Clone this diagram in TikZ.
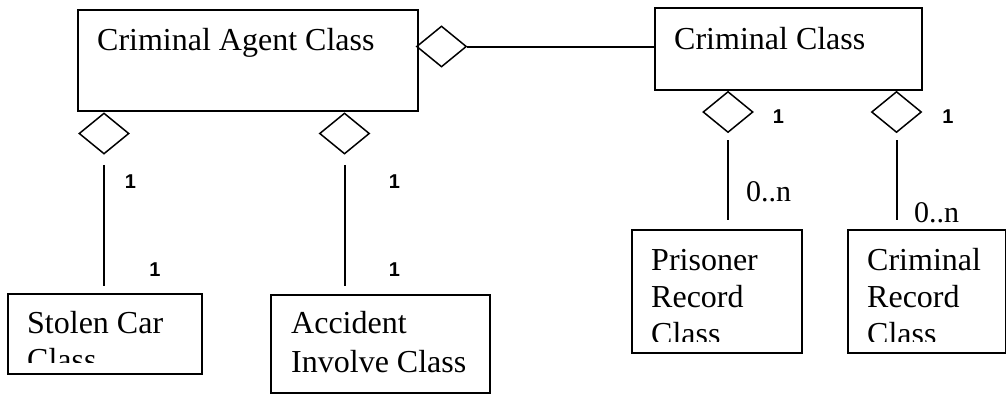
\documentclass[tikz,border=0pt]{standalone}
\usepackage{fontspec}
\setmainfont{Liberation Serif}
\newfontfamily\labelfont{Liberation Sans}
\usetikzlibrary{shapes.geometric}
\begin{document}
\begin{tikzpicture}[x=1pt,y=-1pt,
  classbox/.style={draw,line width=2pt,inner sep=0,anchor=north west},
  agg/.style={draw,diamond,line width=1.5pt,inner sep=0,minimum width=50pt,minimum height=41pt},
  link/.style={line width=2pt},
  classname/.style={inner sep=0,anchor=base west,font=\fontsize{32}{37}\selectfont},
  mult/.style={inner sep=0,font=\labelfont\bfseries\fontsize{20}{20}\selectfont},
  many/.style={inner sep=0,anchor=base west,font=\fontsize{30}{32}\selectfont}]
\useasboundingbox (0,0) rectangle (1006,394);

% class boxes
\node[classbox,minimum width=340pt,minimum height=101pt] (ca) at (77,9) {};
\node[classbox,minimum width=267pt,minimum height=82pt] (cc) at (654,7) {};
\node[classbox,minimum width=194pt,minimum height=80pt] (sc) at (7,293) {};
\node[classbox,minimum width=219pt,minimum height=98pt] (ai) at (270,294) {};
\node[classbox,minimum width=170pt,minimum height=123pt] (pr) at (631,229) {};
\node[classbox,minimum width=158pt,minimum height=123pt] (cr) at (847,229) {};

% class names
\node[classname] (tca) at (97,50) {Criminal Agent Class};
\node[classname] (tcc) at (674,49) {Criminal Class};
\begin{scope}
  \clip (sc.north west) rectangle (sc.south east |- 0,362);
  \node[classname] (tsc1) at (27,333) {Stolen Car};
  \node[classname] (tsc2) at (27,370) {Class};
\end{scope}
\node[classname] (tai1) at (291,333) {Accident};
\node[classname] (tai2) at (291,372) {Involve Class};
\begin{scope}
  \clip (pr.north west) rectangle (pr.south east |- 0,341);
  \node[classname] (tpr1) at (651,270) {Prisoner};
  \node[classname] (tpr2) at (651,307) {Record};
  \node[classname] (tpr3) at (651,344) {Class};
\end{scope}
\begin{scope}
  \clip (cr.north west) rectangle (cr.south east |- 0,341);
  \node[classname] (tcr1) at (867,270) {Criminal};
  \node[classname] (tcr2) at (867,307) {Record};
  \node[classname] (tcr3) at (867,344) {Class};
\end{scope}

% aggregation diamonds
\node[agg] (d0) at (441.5,46.5) {};
\node[agg] (da1) at (104,133.5) {};
\node[agg] (da2) at (344.5,133.5) {};
\node[agg] (dc1) at (728,112) {};
\node[agg] (dc2) at (896.5,112) {};

% associations
\draw[link] (d0.east) -- (d0.east -| cc.west);
\draw[link,shorten <=10pt,shorten >=7pt] (da1.south) -- (da1.south |- sc.north);
\draw[link,shorten <=10pt,shorten >=8pt] (da2.south) -- (da2.south |- ai.north);
\draw[link,shorten <=7pt,shorten >=9pt] (dc1.south) -- (dc1.south |- pr.north);
\draw[link,shorten <=7pt,shorten >=9pt] (dc2.south) -- (dc2.south |- cr.north);

% multiplicities
\node[mult] (m1) at (130.5,182) {1};
\node[mult] (m2) at (394.5,182) {1};
\node[mult] (m3) at (155,269.5) {1};
\node[mult] (m4) at (394.5,269.5) {1};
\node[mult] (m5) at (778.5,116.5) {1};
\node[mult] (m6) at (948,116.5) {1};
\node[many] (n1) at (746,201) {0..n};
\node[many] (n2) at (914,222) {0..n};
\end{tikzpicture}
\end{document}
